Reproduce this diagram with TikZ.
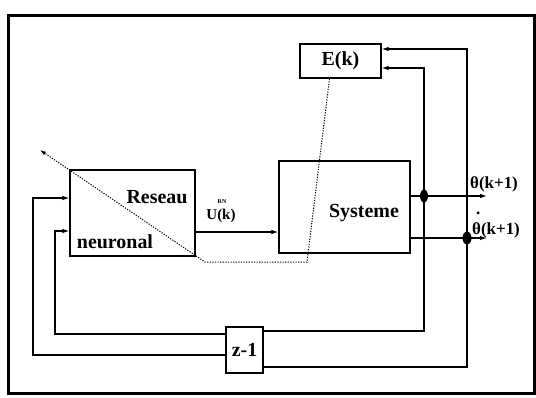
\documentclass[tikz,border=0pt]{standalone}
\usepackage{fontspec}
\setmainfont{Liberation Serif}
\usetikzlibrary{arrows.meta,calc}
\tikzset{
  blk/.style={draw, line width=1.3bp, inner sep=0pt},
  lbl/.style={font=\bfseries\fontsize{20}{22}\selectfont, inner sep=0pt},
  smlbl/.style={font=\bfseries\fontsize{17}{18}\selectfont, inner sep=0pt},
  wire/.style={line width=1.1bp},
  arr/.style={wire, -{Latex[length=7bp,width=4.5bp]}},
  dotline/.style={line width=1bp, dash pattern=on 1.2bp off 1.4bp, -{Latex[length=6bp,width=4bp]}},
  frame/.style={line width=3bp}
}
\begin{document}
\begin{tikzpicture}[x=1bp,y=-1bp]
\useasboundingbox (0,0) rectangle (536,397);
\draw[frame] (8,15) rectangle (534,393);
% blocks
\node[blk, minimum width=125bp, minimum height=86bp] (rn) at (132.5,213) {};
\node[lbl] (rs) at (157,197) {Reseau};
\node[lbl] (ne) at (115,242) {neuronal};
\node[blk, minimum width=131bp, minimum height=92bp] (sys) at (344.5,207) {};
\node[lbl] (st) at (364,213) {Systeme};
\node[blk, lbl, minimum width=81bp, minimum height=34bp] (E) at (340.5,61) {E(k)};
\node[blk, lbl, minimum width=37bp, minimum height=46bp] (z) at (244.5,350) {z-1};
\node[smlbl, font=\bfseries\fontsize{15}{16}\selectfont] (u) at (221,216) {U(k)};
\node[font=\bfseries\fontsize{6}{6}\selectfont, inner sep=0pt] (rnl) at (222,202) {RN};
\node[smlbl, anchor=west] (t1) at (470,184) {θ(k+1)};
\node[smlbl, anchor=base west] (t2) at (472,234) {\makebox[0pt][l]{\hspace{4bp}\raisebox{20bp}{.}}θ(k+1)};
% junctions and outputs
\coordinate (j1) at (424,196);
\coordinate (j2) at (467,238);
\coordinate (o1) at (487,196);
\coordinate (o2) at (487,238);
\draw[arr] (rn.east |- 0,232) -- (sys.west |- 0,232);
\draw[arr] (sys.east |- j1) -- (o1);
\draw[arr] (sys.east |- j2) -- (o2);
\draw[arr] (j1) |- (E.east |- 0,68);
\draw[arr] (j2) |- (E.east |- 0,49);
\draw[wire] (j1) |- (z.east |- 0,331);
\draw[wire] (j2) |- (z.east |- 0,367);
\draw[arr] (z.west |- 0,334) -| (55,231) -- (rn.west |- 0,231);
\draw[arr] (z.west |- 0,355) -| (33,198) -- (rn.west |- 0,198);
\fill (j1) ellipse [x radius=4bp, y radius=6.5bp];
\fill (j2) ellipse [x radius=4.5bp, y radius=6.5bp];
% dotted path
\draw[dotline] ($(E.south)+(-11,0)$) -- (307,262) -- (205,262) -- (40,150);
\end{tikzpicture}
\end{document}
